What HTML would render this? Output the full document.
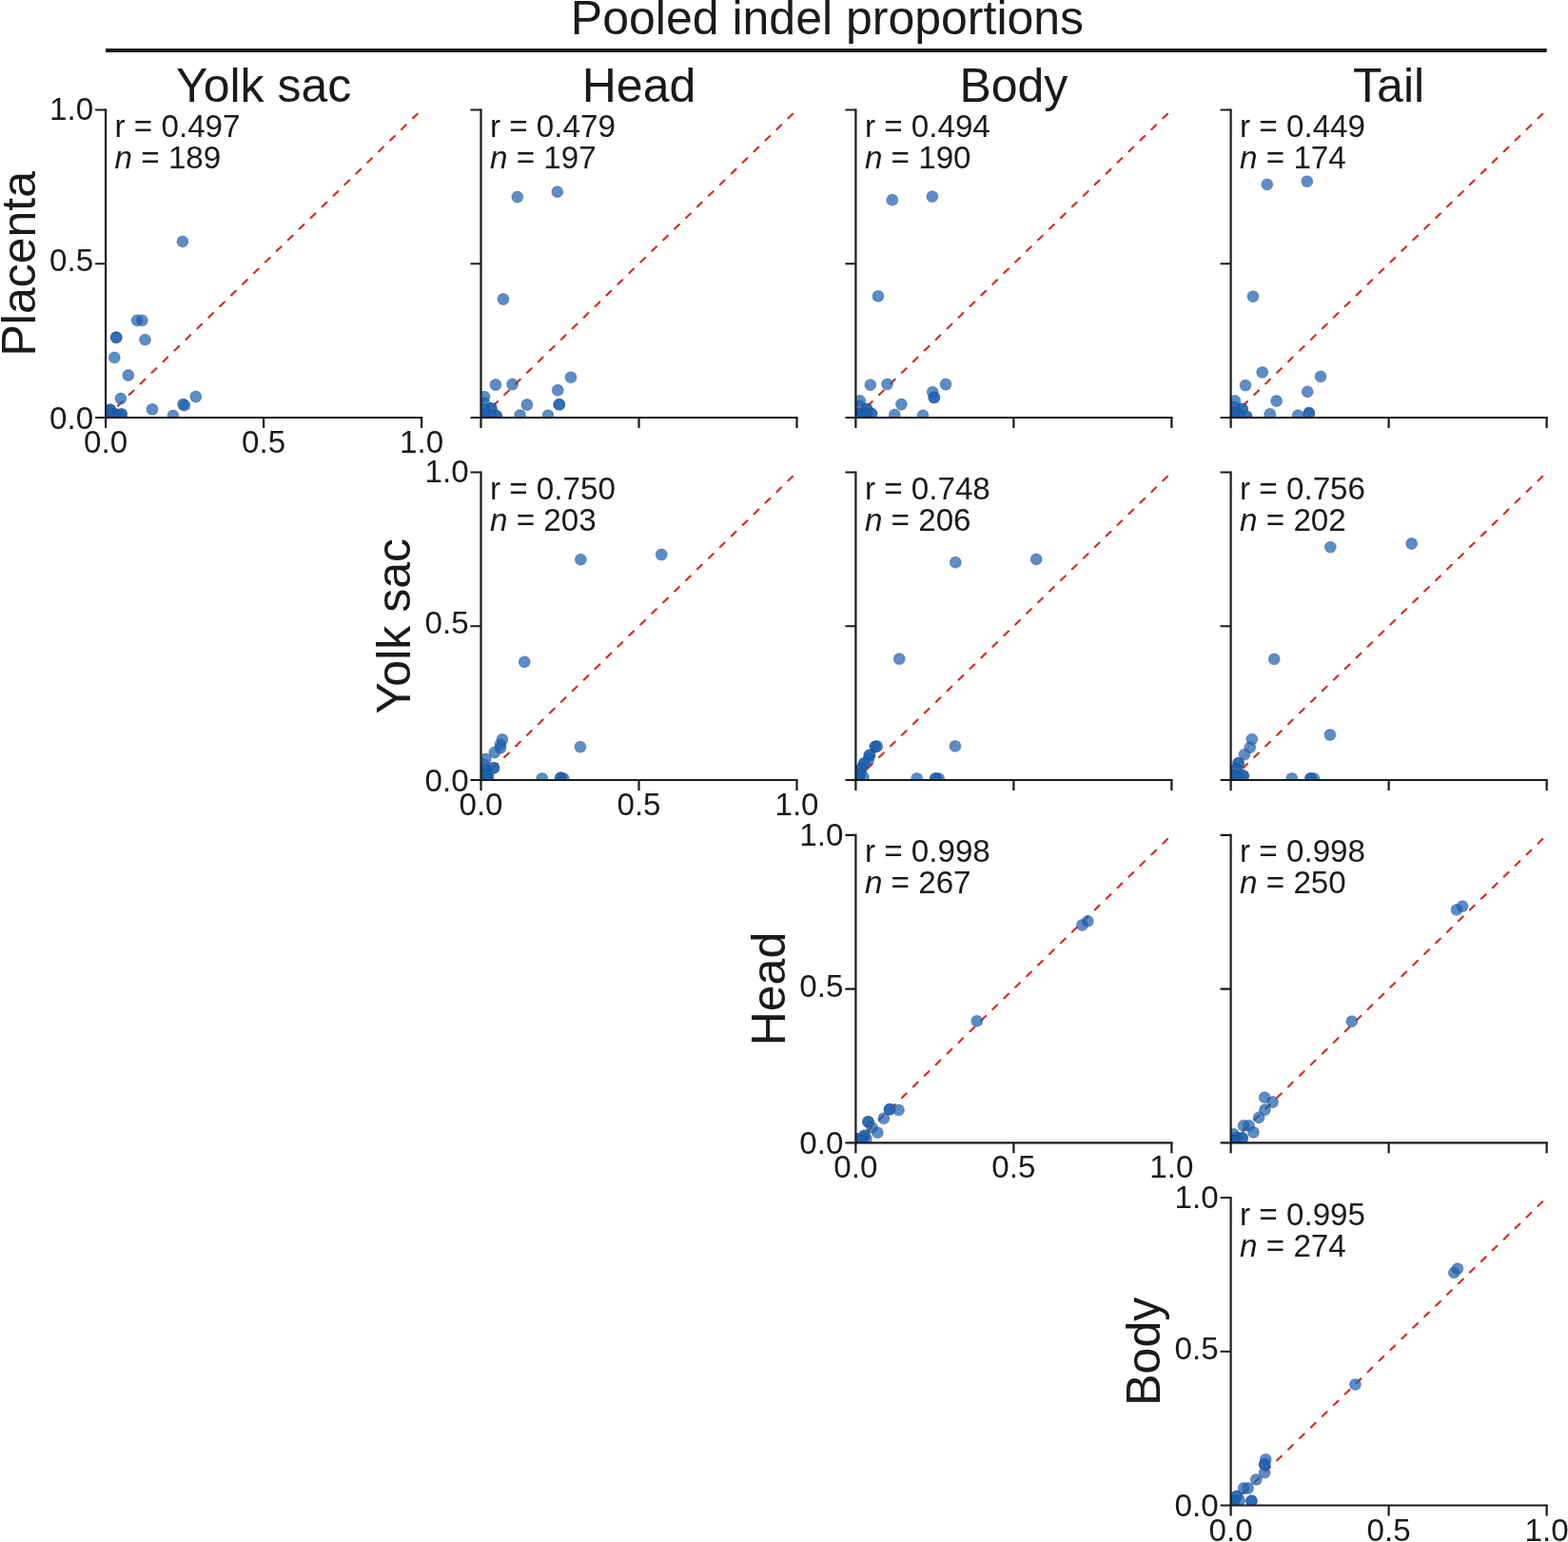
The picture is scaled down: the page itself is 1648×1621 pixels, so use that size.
<!DOCTYPE html>
<html><head><meta charset="utf-8"><title>Pooled indel proportions</title>
<style>
html,body{margin:0;padding:0;background:#fff;}
body{width:1648px;height:1621px;overflow:hidden;}
svg{display:block;}
text{font-family:'Liberation Sans', Arial, Helvetica, sans-serif;fill:#1a1a1a;}
.tk{font-size:33.2px;}
.an{font-size:33.2px;}
.ti{font-size:50px;}
</style></head><body>
<svg width="1648" height="1621" viewBox="0 0 1648 1621">
<rect x="0" y="0" width="1648" height="1621" fill="#fff"/>
<defs>
<clipPath id="cp00"><rect x="111.1" y="107.5" width="340" height="331.5"/></clipPath>
<clipPath id="cp01"><rect x="505.5" y="107.5" width="340" height="331.5"/></clipPath>
<clipPath id="cp02"><rect x="899.4" y="107.5" width="340" height="331.5"/></clipPath>
<clipPath id="cp03"><rect x="1293.6" y="107.5" width="340" height="331.5"/></clipPath>
<clipPath id="cp11"><rect x="505.5" y="488.5" width="340" height="331.5"/></clipPath>
<clipPath id="cp12"><rect x="899.4" y="488.5" width="340" height="331.5"/></clipPath>
<clipPath id="cp13"><rect x="1293.6" y="488.5" width="340" height="331.5"/></clipPath>
<clipPath id="cp22"><rect x="899.4" y="869.8" width="340" height="331.5"/></clipPath>
<clipPath id="cp23"><rect x="1293.6" y="869.8" width="340" height="331.5"/></clipPath>
<clipPath id="cp33"><rect x="1293.6" y="1251" width="340" height="331.5"/></clipPath>
</defs>
<text class="ti" x="869.5" y="36.2" text-anchor="middle">Pooled indel proportions</text>
<line x1="111" y1="53" x2="1625.7" y2="53" stroke="#1a1a1a" stroke-width="4"/>
<text class="ti" x="277.1" y="107.1" text-anchor="middle">Yolk sac</text>
<text class="ti" x="671.5" y="107.1" text-anchor="middle">Head</text>
<text class="ti" x="1065.4" y="107.1" text-anchor="middle">Body</text>
<text class="ti" x="1459.6" y="107.1" text-anchor="middle">Tail</text>
<text class="ti" x="0" y="0" text-anchor="middle" transform="translate(36.6 277.25) rotate(-90)">Placenta</text>
<text class="ti" x="0" y="0" text-anchor="middle" transform="translate(431 658.25) rotate(-90)">Yolk sac</text>
<text class="ti" x="0" y="0" text-anchor="middle" transform="translate(824.9 1039.55) rotate(-90)">Head</text>
<text class="ti" x="0" y="0" text-anchor="middle" transform="translate(1219.1 1420.75) rotate(-90)">Body</text>
<line x1="111.1" y1="439" x2="443.1" y2="115.5" stroke="#d22921" stroke-width="2.1" stroke-linecap="round" stroke-dasharray="6.6 10.06" stroke-dashoffset="-1.05"/>
<g clip-path="url(#cp00)" fill="rgb(25,99,182)" fill-opacity="0.72" stroke="rgb(45,75,125)" stroke-opacity="0.42" stroke-width="1.1">
<circle cx="191.9" cy="253.9" r="5.9"/>
<circle cx="144.1" cy="336.8" r="5.9"/>
<circle cx="149.4" cy="336.8" r="5.9"/>
<circle cx="122.2" cy="354.7" r="5.9"/>
<circle cx="122.2" cy="354.7" r="5.9"/>
<circle cx="152.5" cy="357.1" r="5.9"/>
<circle cx="120.3" cy="375.9" r="5.9"/>
<circle cx="134.8" cy="394.5" r="5.9"/>
<circle cx="126.9" cy="419" r="5.9"/>
<circle cx="205.8" cy="417" r="5.9"/>
<circle cx="192.5" cy="425" r="5.9"/>
<circle cx="193.9" cy="426.2" r="5.9"/>
<circle cx="160" cy="430.3" r="5.9"/>
<circle cx="181.9" cy="436.9" r="5.9"/>
<circle cx="115.9" cy="430.7" r="5.9"/>
<circle cx="115.9" cy="430.7" r="5.9"/>
<circle cx="121.1" cy="435.4" r="5.9"/>
<circle cx="121.1" cy="435.4" r="5.9"/>
<circle cx="127.6" cy="435.4" r="5.9"/>
<circle cx="127.6" cy="435.4" r="5.9"/>
<circle cx="113.1" cy="436" r="5.9"/>
<circle cx="113.1" cy="436" r="5.9"/>
<circle cx="113.1" cy="436" r="5.9"/>
<circle cx="119.1" cy="438" r="5.9"/>
<circle cx="119.1" cy="438" r="5.9"/>
<circle cx="125.1" cy="438" r="5.9"/>
<circle cx="114.1" cy="433" r="5.9"/>
</g>
<path d="M111.1 114.4V439H444.2" fill="none" stroke="#1a1a1a" stroke-width="2.2"/>
<path d="M100.1 439H111.1M111.1 439V450M100.1 277.25H111.1M277.1 439V450M100.1 115.5H111.1M443.1 439V450" fill="none" stroke="#1a1a1a" stroke-width="2.2"/>
<text class="tk" x="98.2" y="439.3" text-anchor="end" dominant-baseline="central">0.0</text>
<text class="tk" x="98.2" y="273.85" text-anchor="end" dominant-baseline="central">0.5</text>
<text class="tk" x="98.2" y="114.8" text-anchor="end" dominant-baseline="central">1.0</text>
<text class="tk" x="111.1" y="476" text-anchor="middle">0.0</text>
<text class="tk" x="277.1" y="476" text-anchor="middle">0.5</text>
<text class="tk" x="443.1" y="476" text-anchor="middle">1.0</text>
<text class="an" x="120.6" y="144">r = 0.497</text>
<text class="an" x="120.6" y="177"><tspan font-style="italic">n</tspan> = 189</text>
<line x1="505.5" y1="439" x2="837.5" y2="115.5" stroke="#d22921" stroke-width="2.1" stroke-linecap="round" stroke-dasharray="6.6 10.06" stroke-dashoffset="-1.05"/>
<g clip-path="url(#cp01)" fill="rgb(25,99,182)" fill-opacity="0.72" stroke="rgb(45,75,125)" stroke-opacity="0.42" stroke-width="1.1">
<circle cx="543.8" cy="207" r="5.9"/>
<circle cx="585.8" cy="201.7" r="5.9"/>
<circle cx="528.9" cy="314.5" r="5.9"/>
<circle cx="520.9" cy="404.5" r="5.9"/>
<circle cx="538.6" cy="404" r="5.9"/>
<circle cx="600" cy="396.6" r="5.9"/>
<circle cx="586.2" cy="410.2" r="5.9"/>
<circle cx="553.9" cy="425.5" r="5.9"/>
<circle cx="587.8" cy="425.2" r="5.9"/>
<circle cx="587.8" cy="425.2" r="5.9"/>
<circle cx="546.6" cy="436.4" r="5.9"/>
<circle cx="576" cy="436.7" r="5.9"/>
<circle cx="509.1" cy="417.1" r="5.9"/>
<circle cx="509" cy="424" r="5.9"/>
<circle cx="516.4" cy="429.5" r="5.9"/>
<circle cx="516.4" cy="429.5" r="5.9"/>
<circle cx="521.8" cy="437.2" r="5.9"/>
<circle cx="521.8" cy="437.2" r="5.9"/>
<circle cx="510.5" cy="435" r="5.9"/>
<circle cx="510.5" cy="435" r="5.9"/>
<circle cx="510.5" cy="435" r="5.9"/>
<circle cx="515.5" cy="437" r="5.9"/>
<circle cx="515.5" cy="437" r="5.9"/>
<circle cx="508.5" cy="430" r="5.9"/>
</g>
<path d="M505.5 114.4V439H838.6" fill="none" stroke="#1a1a1a" stroke-width="2.2"/>
<path d="M494.5 439H505.5M505.5 439V450M494.5 277.25H505.5M671.5 439V450M494.5 115.5H505.5M837.5 439V450" fill="none" stroke="#1a1a1a" stroke-width="2.2"/>
<text class="an" x="515" y="144">r = 0.479</text>
<text class="an" x="515" y="177"><tspan font-style="italic">n</tspan> = 197</text>
<line x1="899.4" y1="439" x2="1231.4" y2="115.5" stroke="#d22921" stroke-width="2.1" stroke-linecap="round" stroke-dasharray="6.6 10.06" stroke-dashoffset="-1.05"/>
<g clip-path="url(#cp02)" fill="rgb(25,99,182)" fill-opacity="0.72" stroke="rgb(45,75,125)" stroke-opacity="0.42" stroke-width="1.1">
<circle cx="937.8" cy="210.2" r="5.9"/>
<circle cx="979.8" cy="206.6" r="5.9"/>
<circle cx="922.9" cy="311.3" r="5.9"/>
<circle cx="914.8" cy="404.6" r="5.9"/>
<circle cx="932.5" cy="403.9" r="5.9"/>
<circle cx="994" cy="404" r="5.9"/>
<circle cx="980.2" cy="412.1" r="5.9"/>
<circle cx="981.8" cy="417.9" r="5.9"/>
<circle cx="981.8" cy="417.9" r="5.9"/>
<circle cx="947.4" cy="425" r="5.9"/>
<circle cx="940.3" cy="435.9" r="5.9"/>
<circle cx="970" cy="436.7" r="5.9"/>
<circle cx="903.7" cy="421.3" r="5.9"/>
<circle cx="903.4" cy="427" r="5.9"/>
<circle cx="911" cy="429.9" r="5.9"/>
<circle cx="911" cy="429.9" r="5.9"/>
<circle cx="915.9" cy="435" r="5.9"/>
<circle cx="915.9" cy="435" r="5.9"/>
<circle cx="909.4" cy="436" r="5.9"/>
<circle cx="909.4" cy="436" r="5.9"/>
<circle cx="909.4" cy="436" r="5.9"/>
<circle cx="902.4" cy="435" r="5.9"/>
<circle cx="902.4" cy="435" r="5.9"/>
<circle cx="902.4" cy="435" r="5.9"/>
<circle cx="905.4" cy="438" r="5.9"/>
<circle cx="905.4" cy="438" r="5.9"/>
</g>
<path d="M899.4 114.4V439H1232.5" fill="none" stroke="#1a1a1a" stroke-width="2.2"/>
<path d="M888.4 439H899.4M899.4 439V450M888.4 277.25H899.4M1065.4 439V450M888.4 115.5H899.4M1231.4 439V450" fill="none" stroke="#1a1a1a" stroke-width="2.2"/>
<text class="an" x="908.9" y="144">r = 0.494</text>
<text class="an" x="908.9" y="177"><tspan font-style="italic">n</tspan> = 190</text>
<line x1="1293.6" y1="439" x2="1625.6" y2="115.5" stroke="#d22921" stroke-width="2.1" stroke-linecap="round" stroke-dasharray="6.6 10.06" stroke-dashoffset="-1.05"/>
<g clip-path="url(#cp03)" fill="rgb(25,99,182)" fill-opacity="0.72" stroke="rgb(45,75,125)" stroke-opacity="0.42" stroke-width="1.1">
<circle cx="1331.8" cy="193.9" r="5.9"/>
<circle cx="1373.8" cy="190.6" r="5.9"/>
<circle cx="1316.9" cy="311.6" r="5.9"/>
<circle cx="1326.7" cy="391.4" r="5.9"/>
<circle cx="1309" cy="405.1" r="5.9"/>
<circle cx="1388" cy="395.8" r="5.9"/>
<circle cx="1374.2" cy="411.8" r="5.9"/>
<circle cx="1341.6" cy="421.5" r="5.9"/>
<circle cx="1334.7" cy="435.3" r="5.9"/>
<circle cx="1364.1" cy="436.7" r="5.9"/>
<circle cx="1375.8" cy="434.2" r="5.9"/>
<circle cx="1375.8" cy="434.2" r="5.9"/>
<circle cx="1297.9" cy="421.5" r="5.9"/>
<circle cx="1297.6" cy="428" r="5.9"/>
<circle cx="1305.6" cy="429.9" r="5.9"/>
<circle cx="1305.6" cy="429.9" r="5.9"/>
<circle cx="1310.1" cy="437.9" r="5.9"/>
<circle cx="1310.1" cy="437.9" r="5.9"/>
<circle cx="1301.6" cy="436" r="5.9"/>
<circle cx="1301.6" cy="436" r="5.9"/>
<circle cx="1301.6" cy="436" r="5.9"/>
<circle cx="1296.6" cy="434" r="5.9"/>
<circle cx="1296.6" cy="434" r="5.9"/>
<circle cx="1296.6" cy="434" r="5.9"/>
</g>
<path d="M1293.6 114.4V439H1626.7" fill="none" stroke="#1a1a1a" stroke-width="2.2"/>
<path d="M1282.6 439H1293.6M1293.6 439V450M1282.6 277.25H1293.6M1459.6 439V450M1282.6 115.5H1293.6M1625.6 439V450" fill="none" stroke="#1a1a1a" stroke-width="2.2"/>
<text class="an" x="1303.1" y="144">r = 0.449</text>
<text class="an" x="1303.1" y="177"><tspan font-style="italic">n</tspan> = 174</text>
<line x1="505.5" y1="820" x2="837.5" y2="496.5" stroke="#d22921" stroke-width="2.1" stroke-linecap="round" stroke-dasharray="6.6 10.06" stroke-dashoffset="-1.05"/>
<g clip-path="url(#cp11)" fill="rgb(25,99,182)" fill-opacity="0.72" stroke="rgb(45,75,125)" stroke-opacity="0.42" stroke-width="1.1">
<circle cx="610.3" cy="588.2" r="5.9"/>
<circle cx="695.2" cy="583" r="5.9"/>
<circle cx="551.2" cy="695.8" r="5.9"/>
<circle cx="609.9" cy="785.1" r="5.9"/>
<circle cx="527.9" cy="777.5" r="5.9"/>
<circle cx="525.9" cy="782.6" r="5.9"/>
<circle cx="525.9" cy="786.3" r="5.9"/>
<circle cx="519.8" cy="791" r="5.9"/>
<circle cx="510.3" cy="798" r="5.9"/>
<circle cx="508.5" cy="804" r="5.9"/>
<circle cx="518.9" cy="807.3" r="5.9"/>
<circle cx="518.9" cy="807.3" r="5.9"/>
<circle cx="510.5" cy="810" r="5.9"/>
<circle cx="510.5" cy="810" r="5.9"/>
<circle cx="508.5" cy="816" r="5.9"/>
<circle cx="508.5" cy="816" r="5.9"/>
<circle cx="512.5" cy="815" r="5.9"/>
<circle cx="512.5" cy="815" r="5.9"/>
<circle cx="513.5" cy="820" r="5.9"/>
<circle cx="569.7" cy="818.4" r="5.9"/>
<circle cx="589.4" cy="817.6" r="5.9"/>
<circle cx="589.4" cy="817.6" r="5.9"/>
<circle cx="592.2" cy="818.4" r="5.9"/>
</g>
<path d="M505.5 495.4V820H838.6" fill="none" stroke="#1a1a1a" stroke-width="2.2"/>
<path d="M494.5 820H505.5M505.5 820V831M494.5 658.25H505.5M671.5 820V831M494.5 496.5H505.5M837.5 820V831" fill="none" stroke="#1a1a1a" stroke-width="2.2"/>
<text class="tk" x="492.6" y="820.3" text-anchor="end" dominant-baseline="central">0.0</text>
<text class="tk" x="492.6" y="654.85" text-anchor="end" dominant-baseline="central">0.5</text>
<text class="tk" x="492.6" y="495.8" text-anchor="end" dominant-baseline="central">1.0</text>
<text class="tk" x="505.5" y="857" text-anchor="middle">0.0</text>
<text class="tk" x="671.5" y="857" text-anchor="middle">0.5</text>
<text class="tk" x="837.5" y="857" text-anchor="middle">1.0</text>
<text class="an" x="515" y="525">r = 0.750</text>
<text class="an" x="515" y="558"><tspan font-style="italic">n</tspan> = 203</text>
<line x1="899.4" y1="820" x2="1231.4" y2="496.5" stroke="#d22921" stroke-width="2.1" stroke-linecap="round" stroke-dasharray="6.6 10.06" stroke-dashoffset="-1.05"/>
<g clip-path="url(#cp12)" fill="rgb(25,99,182)" fill-opacity="0.72" stroke="rgb(45,75,125)" stroke-opacity="0.42" stroke-width="1.1">
<circle cx="1004.3" cy="591.2" r="5.9"/>
<circle cx="1089.2" cy="587.9" r="5.9"/>
<circle cx="945.2" cy="692.6" r="5.9"/>
<circle cx="1003.9" cy="784.4" r="5.9"/>
<circle cx="919.9" cy="785" r="5.9"/>
<circle cx="919.9" cy="785" r="5.9"/>
<circle cx="921.9" cy="784.5" r="5.9"/>
<circle cx="913.9" cy="794" r="5.9"/>
<circle cx="913.9" cy="794" r="5.9"/>
<circle cx="912.9" cy="798" r="5.9"/>
<circle cx="908.1" cy="802.6" r="5.9"/>
<circle cx="908.1" cy="802.6" r="5.9"/>
<circle cx="905.4" cy="808" r="5.9"/>
<circle cx="905.4" cy="808" r="5.9"/>
<circle cx="903.9" cy="814" r="5.9"/>
<circle cx="903.9" cy="814" r="5.9"/>
<circle cx="902.4" cy="818" r="5.9"/>
<circle cx="902.4" cy="818" r="5.9"/>
<circle cx="907.4" cy="817" r="5.9"/>
<circle cx="963.6" cy="818.4" r="5.9"/>
<circle cx="983.3" cy="818.4" r="5.9"/>
<circle cx="986.6" cy="818.4" r="5.9"/>
<circle cx="983.3" cy="818.4" r="5.9"/>
</g>
<path d="M899.4 495.4V820H1232.5" fill="none" stroke="#1a1a1a" stroke-width="2.2"/>
<path d="M888.4 820H899.4M899.4 820V831M888.4 658.25H899.4M1065.4 820V831M888.4 496.5H899.4M1231.4 820V831" fill="none" stroke="#1a1a1a" stroke-width="2.2"/>
<text class="an" x="908.9" y="525">r = 0.748</text>
<text class="an" x="908.9" y="558"><tspan font-style="italic">n</tspan> = 206</text>
<line x1="1293.6" y1="820" x2="1625.6" y2="496.5" stroke="#d22921" stroke-width="2.1" stroke-linecap="round" stroke-dasharray="6.6 10.06" stroke-dashoffset="-1.05"/>
<g clip-path="url(#cp13)" fill="rgb(25,99,182)" fill-opacity="0.72" stroke="rgb(45,75,125)" stroke-opacity="0.42" stroke-width="1.1">
<circle cx="1398.3" cy="575.1" r="5.9"/>
<circle cx="1483.6" cy="571.5" r="5.9"/>
<circle cx="1339.2" cy="692.9" r="5.9"/>
<circle cx="1397.9" cy="772.5" r="5.9"/>
<circle cx="1315.8" cy="777.1" r="5.9"/>
<circle cx="1313.8" cy="785.6" r="5.9"/>
<circle cx="1308" cy="793.1" r="5.9"/>
<circle cx="1301.6" cy="802.2" r="5.9"/>
<circle cx="1301.6" cy="802.2" r="5.9"/>
<circle cx="1299.2" cy="809" r="5.9"/>
<circle cx="1299.2" cy="809" r="5.9"/>
<circle cx="1306.7" cy="815.5" r="5.9"/>
<circle cx="1306.7" cy="815.5" r="5.9"/>
<circle cx="1298.2" cy="815.8" r="5.9"/>
<circle cx="1298.2" cy="815.8" r="5.9"/>
<circle cx="1298.2" cy="815.8" r="5.9"/>
<circle cx="1302.6" cy="818" r="5.9"/>
<circle cx="1357.8" cy="818.4" r="5.9"/>
<circle cx="1377.5" cy="818.4" r="5.9"/>
<circle cx="1380.8" cy="818.4" r="5.9"/>
<circle cx="1377.5" cy="818.4" r="5.9"/>
</g>
<path d="M1293.6 495.4V820H1626.7" fill="none" stroke="#1a1a1a" stroke-width="2.2"/>
<path d="M1282.6 820H1293.6M1293.6 820V831M1282.6 658.25H1293.6M1459.6 820V831M1282.6 496.5H1293.6M1625.6 820V831" fill="none" stroke="#1a1a1a" stroke-width="2.2"/>
<text class="an" x="1303.1" y="525">r = 0.756</text>
<text class="an" x="1303.1" y="558"><tspan font-style="italic">n</tspan> = 202</text>
<line x1="899.4" y1="1201.3" x2="1231.4" y2="877.8" stroke="#d22921" stroke-width="2.1" stroke-linecap="round" stroke-dasharray="6.6 10.06" stroke-dashoffset="-1.05"/>
<g clip-path="url(#cp22)" fill="rgb(25,99,182)" fill-opacity="0.72" stroke="rgb(45,75,125)" stroke-opacity="0.42" stroke-width="1.1">
<circle cx="1137.4" cy="972.5" r="5.9"/>
<circle cx="1143.3" cy="968.3" r="5.9"/>
<circle cx="1026.8" cy="1073.3" r="5.9"/>
<circle cx="935" cy="1166.2" r="5.9"/>
<circle cx="935" cy="1166.2" r="5.9"/>
<circle cx="944.5" cy="1166.9" r="5.9"/>
<circle cx="928.8" cy="1175.7" r="5.9"/>
<circle cx="912.5" cy="1179.3" r="5.9"/>
<circle cx="912.5" cy="1179.3" r="5.9"/>
<circle cx="916.4" cy="1185.3" r="5.9"/>
<circle cx="922.3" cy="1190.6" r="5.9"/>
<circle cx="908.5" cy="1193.9" r="5.9"/>
<circle cx="908.5" cy="1193.9" r="5.9"/>
<circle cx="901.9" cy="1197.5" r="5.9"/>
<circle cx="901.9" cy="1197.5" r="5.9"/>
<circle cx="910.4" cy="1197.5" r="5.9"/>
<circle cx="905.4" cy="1199.3" r="5.9"/>
</g>
<path d="M899.4 876.7V1201.3H1232.5" fill="none" stroke="#1a1a1a" stroke-width="2.2"/>
<path d="M888.4 1201.3H899.4M899.4 1201.3V1212.3M888.4 1039.55H899.4M1065.4 1201.3V1212.3M888.4 877.8H899.4M1231.4 1201.3V1212.3" fill="none" stroke="#1a1a1a" stroke-width="2.2"/>
<text class="tk" x="886.5" y="1201.6" text-anchor="end" dominant-baseline="central">0.0</text>
<text class="tk" x="886.5" y="1036.15" text-anchor="end" dominant-baseline="central">0.5</text>
<text class="tk" x="886.5" y="877.1" text-anchor="end" dominant-baseline="central">1.0</text>
<text class="tk" x="899.4" y="1238.3" text-anchor="middle">0.0</text>
<text class="tk" x="1065.4" y="1238.3" text-anchor="middle">0.5</text>
<text class="tk" x="1231.4" y="1238.3" text-anchor="middle">1.0</text>
<text class="an" x="908.9" y="906.3">r = 0.998</text>
<text class="an" x="908.9" y="939.3"><tspan font-style="italic">n</tspan> = 267</text>
<line x1="1293.6" y1="1201.3" x2="1625.6" y2="877.8" stroke="#d22921" stroke-width="2.1" stroke-linecap="round" stroke-dasharray="6.6 10.06" stroke-dashoffset="-1.05"/>
<g clip-path="url(#cp23)" fill="rgb(25,99,182)" fill-opacity="0.72" stroke="rgb(45,75,125)" stroke-opacity="0.42" stroke-width="1.1">
<circle cx="1531" cy="956.4" r="5.9"/>
<circle cx="1537.1" cy="952.6" r="5.9"/>
<circle cx="1420.8" cy="1073.7" r="5.9"/>
<circle cx="1329.2" cy="1153.7" r="5.9"/>
<circle cx="1337.6" cy="1158.5" r="5.9"/>
<circle cx="1329.4" cy="1166.7" r="5.9"/>
<circle cx="1323.1" cy="1174.8" r="5.9"/>
<circle cx="1307.1" cy="1183.3" r="5.9"/>
<circle cx="1312.6" cy="1183.3" r="5.9"/>
<circle cx="1317.4" cy="1190.3" r="5.9"/>
<circle cx="1299.6" cy="1196.3" r="5.9"/>
<circle cx="1299.6" cy="1196.3" r="5.9"/>
<circle cx="1305.6" cy="1196.3" r="5.9"/>
<circle cx="1305.6" cy="1196.3" r="5.9"/>
<circle cx="1296.6" cy="1192.3" r="5.9"/>
<circle cx="1296.6" cy="1199.3" r="5.9"/>
<circle cx="1296.6" cy="1199.3" r="5.9"/>
</g>
<path d="M1293.6 876.7V1201.3H1626.7" fill="none" stroke="#1a1a1a" stroke-width="2.2"/>
<path d="M1282.6 1201.3H1293.6M1293.6 1201.3V1212.3M1282.6 1039.55H1293.6M1459.6 1201.3V1212.3M1282.6 877.8H1293.6M1625.6 1201.3V1212.3" fill="none" stroke="#1a1a1a" stroke-width="2.2"/>
<text class="an" x="1303.1" y="906.3">r = 0.998</text>
<text class="an" x="1303.1" y="939.3"><tspan font-style="italic">n</tspan> = 250</text>
<line x1="1293.6" y1="1582.5" x2="1625.6" y2="1259" stroke="#d22921" stroke-width="2.1" stroke-linecap="round" stroke-dasharray="6.6 10.06" stroke-dashoffset="-1.05"/>
<g clip-path="url(#cp33)" fill="rgb(25,99,182)" fill-opacity="0.72" stroke="rgb(45,75,125)" stroke-opacity="0.42" stroke-width="1.1">
<circle cx="1528.3" cy="1337.8" r="5.9"/>
<circle cx="1531.9" cy="1333.6" r="5.9"/>
<circle cx="1424.4" cy="1455.4" r="5.9"/>
<circle cx="1330.2" cy="1534.2" r="5.9"/>
<circle cx="1329.2" cy="1539.5" r="5.9"/>
<circle cx="1329.2" cy="1539.5" r="5.9"/>
<circle cx="1329.2" cy="1548.1" r="5.9"/>
<circle cx="1320.3" cy="1555.4" r="5.9"/>
<circle cx="1307.1" cy="1564.5" r="5.9"/>
<circle cx="1311.6" cy="1564.5" r="5.9"/>
<circle cx="1299.9" cy="1572.9" r="5.9"/>
<circle cx="1299.9" cy="1572.9" r="5.9"/>
<circle cx="1296.6" cy="1577.9" r="5.9"/>
<circle cx="1296.6" cy="1577.9" r="5.9"/>
<circle cx="1302.6" cy="1577.5" r="5.9"/>
<circle cx="1315.4" cy="1577.8" r="5.9"/>
<circle cx="1315.4" cy="1577.8" r="5.9"/>
</g>
<path d="M1293.6 1257.9V1582.5H1626.7" fill="none" stroke="#1a1a1a" stroke-width="2.2"/>
<path d="M1282.6 1582.5H1293.6M1293.6 1582.5V1593.5M1282.6 1420.75H1293.6M1459.6 1582.5V1593.5M1282.6 1259H1293.6M1625.6 1582.5V1593.5" fill="none" stroke="#1a1a1a" stroke-width="2.2"/>
<text class="tk" x="1280.7" y="1582.8" text-anchor="end" dominant-baseline="central">0.0</text>
<text class="tk" x="1280.7" y="1417.35" text-anchor="end" dominant-baseline="central">0.5</text>
<text class="tk" x="1280.7" y="1258.3" text-anchor="end" dominant-baseline="central">1.0</text>
<text class="tk" x="1293.6" y="1619.5" text-anchor="middle">0.0</text>
<text class="tk" x="1459.6" y="1619.5" text-anchor="middle">0.5</text>
<text class="tk" x="1625.6" y="1619.5" text-anchor="middle">1.0</text>
<text class="an" x="1303.1" y="1287.5">r = 0.995</text>
<text class="an" x="1303.1" y="1320.5"><tspan font-style="italic">n</tspan> = 274</text>
</svg>
</body></html>
